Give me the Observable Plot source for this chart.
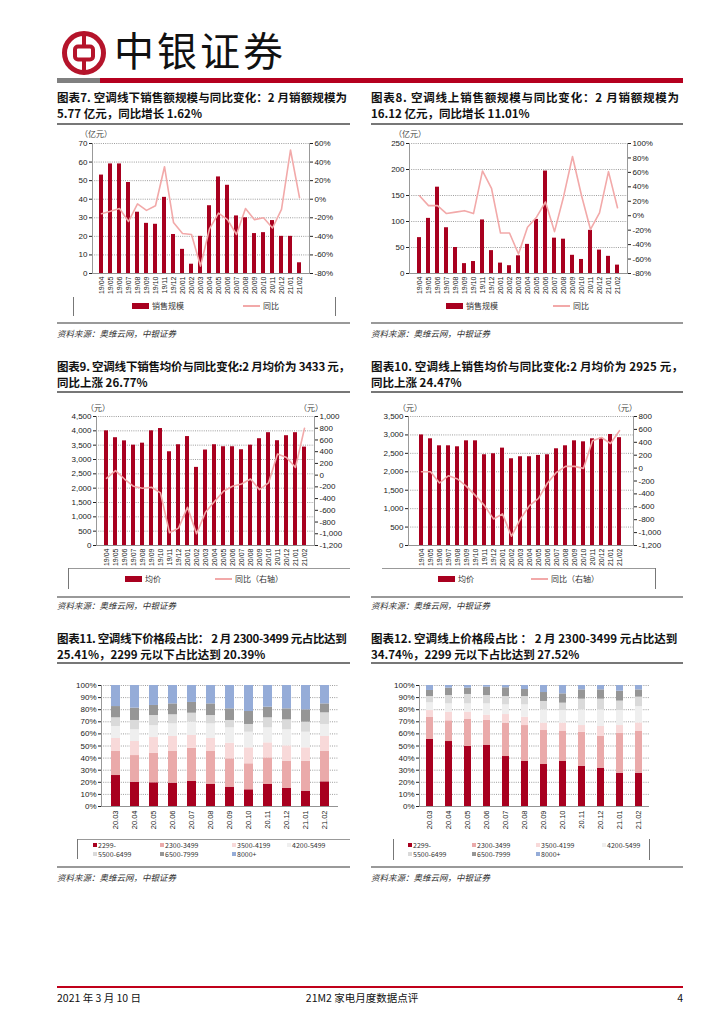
<!DOCTYPE html>
<html><head><meta charset="utf-8">
<script src="https://cdn.jsdelivr.net/npm/d3@7"></script>
<script src="https://cdn.jsdelivr.net/npm/@observablehq/plot@0.6"></script>
<style>
body{margin:0;background:#fff}
#page{position:relative;width:724px;height:1024px;overflow:hidden;background:#fff;font-family:"Noto Sans CJK SC","Liberation Sans",sans-serif;color:#111}
.abs{position:absolute}
.title{font-weight:700;font-size:11.5px;line-height:16px;white-space:nowrap;color:#111}
.src{font-style:italic;font-size:8.5px;color:#333;white-space:nowrap;line-height:10px}
.lg{font-size:8px;color:#333;white-space:nowrap;line-height:10px}
.unit{font-size:8px;color:#444;white-space:nowrap;line-height:10px}
</style></head><body><div id="page"></div>
<script>
// ---------------- data ----------------
const months = ["19/04","19/05","19/06","19/07","19/08","19/09","19/10","19/11","19/12","20/01","20/02","20/03","20/04","20/05","20/06","20/07","20/08","20/09","20/10","20/11","20/12","21/01","21/02"];
// 图表7 线下销售额（亿元）与同比（%）
const offlineSales = [53,59,59,49,33,27,26.5,41,21,13,5,20,36.5,52,47.5,31,30,21.5,22,28.5,20,20,5.77];
const offlineSalesYoY = [-15.6,-13,-10,-24,-5,-12,-7,35,-25,-37,-38,-72,-32,-15,-22,-38,-10,-22,-20,-31,-11,53,1.62];
// 图表8 线上销售额（亿元）与同比（%）
const onlineSales = [69,106,166,88,50,19,23,103,44,20,15,34,56,104,197,68,66,35,27,83,45,33,16.12];
const onlineSalesYoY = [27.6,14,14,3,5,7,3,62,38,-24,-24,-53,-16,-2,19,-22,26,82,28,-19,4,61,11.01];
// 图表9 线下均价（元）与同比（元，右轴）
const offlinePrice = [4000,3760,3650,3500,3570,4000,4080,3270,3515,3800,2725,3330,3515,3445,3445,3340,3500,3725,3935,3655,3830,3935,3433];
const offlinePriceYoY = [-54,76,-66,-190,-224,-207,-303,-983,-904,-547,-1000,-632,-450,-275,-190,-150,-66,-247,-133,360,300,133,800];
// 图表10 线上均价（元）与同比（元，右轴）
const onlinePrice = [3000,2895,2705,2705,2678,2840,2840,2462,2489,2642,2353,2408,2408,2444,2462,2624,2705,2840,2813,2895,2912,3012,2925];
const onlinePriceYoY = [-56,-56,-231,-118,-169,-283,-427,-582,-788,-711,-1056,-788,-582,-469,-231,-66,27,27,-4,424,475,382,580];
// 图表11/12 价格段占比（%）
const shareMonths = ["20.03","20.04","20.05","20.06","20.07","20.08","20.09","20.10","20.11","20.12","21.01","21.02"];
const priceBands = ["2299-","2300-3499","3500-4199","4200-5499","5500-6499","6500-7999","8000+"];
const offlineShare = [
  [25.6,19.9,10.7,9.9,7.2,9.3,17.4],
  [20.1,22.0,11.6,9.7,7.7,10.2,18.7],
  [19.6,24.5,12.9,9.9,8.3,8.3,16.5],
  [19.3,26.2,12.4,10.4,7.5,9.0,15.2],
  [20.7,27.5,10.5,11.0,7.4,8.9,14.0],
  [18.2,27.3,10.7,12.1,6.9,9.6,15.2],
  [16.0,23.4,12.9,12.7,6.1,9.6,19.3],
  [13.8,21.5,13.2,12.9,6.4,10.7,21.5],
  [18.2,22.0,12.4,12.4,8.3,8.8,17.9],
  [14.9,22.6,12.6,13.3,8.2,9.1,19.3],
  [12.7,24.8,11.0,12.9,8.3,10.2,20.1],
  [20.39,25.41,12.1,9.9,9.6,7.4,15.2]
];
const onlineShare = [
  [55.4,18.2,5.7,6.4,5.2,5.0,4.1],
  [53.7,17.1,7.2,6.8,6.9,6.1,2.2],
  [49.6,22.3,6.1,6.8,7.8,5.2,2.2],
  [50.7,20.4,4.4,9.3,6.9,6.9,1.4],
  [41.3,27.6,7.1,8.0,6.9,7.2,1.9],
  [37.2,29.7,6.9,10.2,6.9,5.8,3.3],
  [34.7,28.1,6.1,11.0,6.9,7.4,5.8],
  [37.2,24.8,6.9,10.4,6.1,7.7,6.9],
  [33.3,28.1,5.5,13.0,8.8,7.7,3.6],
  [31.7,26.2,8.2,13.8,8.8,7.7,3.6],
  [27.5,33.1,6.3,12.4,7.8,8.2,4.7],
  [27.52,34.74,6.8,13.5,7.8,6.0,3.64]
];
// tick values
const salesTicks7 = [0,10,20,30,40,50,60,70];
const yoyTicks7 = [-80,-60,-40,-20,0,20,40,60];
const salesTicks8 = [0,50,100,150,200,250];
const yoyTicks8 = [-80,-60,-40,-20,0,20,40,60,80,100];
const priceTicks9 = [0,500,1000,1500,2000,2500,3000,3500,4000,4500];
const diffTicks9 = [-1200,-1000,-800,-600,-400,-200,0,200,400,600,800,1000];
const priceTicks10 = [0,500,1000,1500,2000,2500,3000,3500];
const diffTicks10 = [-1200,-1000,-800,-600,-400,-200,0,200,400,600,800];
const shareTicks = [0,10,20,30,40,50,60,70,80,90,100];

// ---------------- styles ----------------
const RED = "#a8001f";
const PINK = "#f2a9a9";
const bandColors = ["#a8001f","#eaaaaa","#f8d9d9","#efefef","#dadada","#969696","#95acd8"];
const FONT = "'Liberation Sans', Arial, sans-serif";
const page = document.getElementById("page");

function el(cls, css, html){
  const d = document.createElement("div");
  d.className = "abs " + (cls||"");
  Object.assign(d.style, css);
  if (html != null) d.innerHTML = html;
  page.appendChild(d);
  return d;
}
function hline(x1,x2,y,h,color){ el("", {left:x1+"px", top:y+"px", width:(x2-x1)+"px", height:h+"px", background:color}); }
function vline(x,y1,y2,color){ el("", {left:x+"px", top:y1+"px", width:"1px", height:(y2-y1)+"px", background:color}); }

const fmtComma = n => (n < 0 ? "-" : "") + d3.format(",")(Math.abs(n));
const fmtPct = n => n + "%";

function dual(cfg){
  const rows = months.map((m,i)=>({m, v: cfg.bars[i], r: cfg.line[i]}));
  const [y0,y1] = cfg.yDomain, [r0,r1] = cfg.rDomain;
  const f = r => y0 + (r - r0)/(r1 - r0)*(y1 - y0);
  const finv = y => r0 + (y - y0)/(y1 - y0)*(r1 - r0);
  return Plot.plot({
    width: cfg.width, height: cfg.height,
    marginTop: cfg.mt, marginBottom: cfg.mb, marginLeft: cfg.ml, marginRight: cfg.mr,
    style: {fontFamily: FONT, fontSize: "8px", color: "#222", background: "transparent", overflow: "visible"},
    x: {type: "band", domain: months, paddingInner: cfg.pi, paddingOuter: cfg.po, label: null},
    y: {domain: cfg.yDomain, label: null},
    marks: [
      Plot.gridY(cfg.yTicks.slice(1), {stroke: "#333", strokeOpacity: 0.8, strokeWidth: 0.6, strokeDasharray: "1,1.2"}),
      Plot.barY(rows, {x: "m", y: "v", fill: RED}),
      Plot.line(rows, {x: "m", y: d => f(d.r), stroke: PINK, strokeWidth: 1.6}),
      Plot.ruleY([y0], {stroke: "#777", strokeWidth: 0.8}),
      Plot.frame({anchor: "left", stroke: "#999"}),
      Plot.frame({anchor: "right", stroke: "#999"}),
      Plot.axisY(cfg.yTicks, {anchor: "left", tickSize: 3, tickPadding: 2, tickFormat: cfg.yFmt, label: null}),
      Plot.axisY(cfg.rTicks.map(f), {anchor: "right", tickSize: 3, tickPadding: 2, tickFormat: y => cfg.rFmt(Math.round(finv(y))), label: null}),
      Plot.axisX({tickRotate: -90, tickSize: 0, tickPadding: 3, fontSize: 7, label: null})
    ]
  });
}

function stacked(cfg){
  const rows = shareMonths.flatMap((m,i) => priceBands.map((b,j) => ({m, b, v: cfg.share[i][j]})));
  return Plot.plot({
    width: cfg.width, height: cfg.height,
    marginTop: cfg.mt, marginBottom: cfg.mb, marginLeft: cfg.ml, marginRight: cfg.mr,
    style: {fontFamily: FONT, fontSize: "8px", color: "#222", background: "transparent", overflow: "visible"},
    x: {type: "band", domain: shareMonths, paddingInner: cfg.pi, paddingOuter: cfg.po, label: null},
    y: {domain: [0,100], label: null},
    color: {domain: priceBands, range: bandColors},
    marks: [
      Plot.gridY(shareTicks.slice(1), {stroke: "#333", strokeOpacity: 0.8, strokeWidth: 0.6, strokeDasharray: "1,1.2"}),
      Plot.barY(rows, {x: "m", y: "v", fill: "b", order: priceBands}),
      Plot.ruleY([0], {stroke: "#777", strokeWidth: 0.8}),
      Plot.frame({anchor: "left", stroke: "#999"}),
      Plot.axisY(shareTicks, {anchor: "left", tickSize: 3, tickPadding: 2, tickFormat: fmtPct, label: null}),
      Plot.axisX({tickRotate: -90, tickSize: 0, tickPadding: 4, fontSize: 7.5, label: null})
    ]
  });
}

function place(node, left, top){
  const d = el("", {left: left+"px", top: top+"px"});
  d.appendChild(node);
}

function title(left, top, width, l1, l2){
  const a = el("title", {left: left+"px", top: top+"px"}, l1);
  const w = a.scrollWidth;
  const n = [...l1].length;
  a.style.letterSpacing = ((width - w)/(n-1)) + "px";
  el("title", {left: left+"px", top: (top+16)+"px"}, l2);
}

// ---------------- header ----------------
el("", {left:"61px", top:"30px"}, `<svg width="46" height="46" viewBox="0 0 46 46">
 <circle cx="23" cy="23" r="19.5" fill="none" stroke="#b5142b" stroke-width="5"/>
 <rect x="14" y="16.5" width="18" height="13" rx="3" fill="none" stroke="#b5142b" stroke-width="4"/>
 <line x1="23" y1="4" x2="23" y2="16.5" stroke="#b5142b" stroke-width="4"/>
 <line x1="23" y1="29.5" x2="23" y2="42" stroke="#b5142b" stroke-width="4"/></svg>`);
el("", {left:"114px", top:"24px", fontSize:"40px", lineHeight:"50px", letterSpacing:"3px", color:"#111", whiteSpace:"nowrap"}, "中银证券");
hline(57, 100, 78, 5, "#808080");
hline(100, 683, 78, 5, "#b5001f");

// ---------------- titles & rules ----------------
title(57, 89, 290, "图表7. 空调线下销售额规模与同比变化：2 月销额规模为", "5.77 亿元，同比增长 1.62%");
title(371, 89, 308, "图表8. 空调线上销售额规模与同比变化：2 月销额规模为", "16.12 亿元，同比增长 11.01%");
title(57, 358, 293, "图表9. 空调线下销售均价与同比变化:2 月均价为 3433 元，", "同比上涨 26.77%");
title(371, 358, 312, "图表10. 空调线上销售均价与同比变化:2 月均价为 2925 元，", "同比上涨 24.47%");
title(57, 630, 290, "图表11. 空调线下价格段占比： 2 月 2300-3499 元占比达到", "25.41%，2299 元以下占比达到 20.39%");
title(371, 630, 306, "图表12. 空调线上价格段占比 ： 2 月 2300-3499 元占比达到", "34.74%，2299 元以下占比达到 27.52%");
for (const y of [123, 391, 662]) { hline(57, 350, y, 2, "#777"); hline(371, 683, y, 2, "#777"); }
for (const y of [322, 596, 866]) { hline(57, 350, y, 2, "#999"); hline(371, 683, y, 2, "#999"); }
for (const y of [328, 600, 872]) {
  el("src", {left:"57px", top:y+"px"}, "资料来源：奥维云网，中银证券");
  el("src", {left:"371px", top:y+"px"}, "资料来源：奥维云网，中银证券");
}

// ---------------- charts ----------------
place(dual({bars: offlineSales, line: offlineSalesYoY, yDomain:[0,70], rDomain:[-80,60], yTicks: salesTicks7, rTicks: yoyTicks7,
  yFmt: d => d, rFmt: fmtPct, width: 293, height: 168, mt: 13, mb: 25, ml: 35, mr: 41, pi: 0.55, po: 0.35}), 57, 130);
place(dual({bars: onlineSales, line: onlineSalesYoY, yDomain:[0,250], rDomain:[-80,100], yTicks: salesTicks8, rTicks: yoyTicks8,
  yFmt: d => d, rFmt: fmtPct, width: 312, height: 168, mt: 13, mb: 25, ml: 38, mr: 56, pi: 0.6, po: 0.3}), 371, 130);
place(dual({bars: offlinePrice, line: offlinePriceYoY, yDomain:[0,4500], rDomain:[-1200,1000], yTicks: priceTicks9, rTicks: diffTicks9,
  yFmt: fmtComma, rFmt: fmtComma, width: 293, height: 170, mt: 19, mb: 22, ml: 39, mr: 36, pi: 0.6, po: 0.15}), 57, 397);
place(dual({bars: onlinePrice, line: onlinePriceYoY, yDomain:[0,3500], rDomain:[-1200,800], yTicks: priceTicks10, rTicks: diffTicks10,
  yFmt: fmtComma, rFmt: fmtComma, width: 312, height: 170, mt: 19, mb: 22, ml: 37, mr: 50, pi: 0.52, po: 0.24}), 371, 397);
place(stacked({share: offlineShare, width: 293, height: 168, mt: 17, mb: 30, ml: 44, mr: 12, pi: 0.54, po: 0.34}), 57, 668);
place(stacked({share: onlineShare, width: 312, height: 168, mt: 17, mb: 30, ml: 48, mr: 34, pi: 0.61, po: 0.17}), 371, 668);

// unit labels
el("unit", {left:"80px", top:"129px"}, "（亿元）");
el("unit", {left:"394px", top:"129px"}, "（亿元）");
el("unit", {left:"86px", top:"403px"}, "（元）");
el("unit", {left:"299px", top:"403px"}, "（元）");
el("unit", {left:"398px", top:"403px"}, "（元）");
el("unit", {left:"613px", top:"403px"}, "（元）");

// ---------------- legends ----------------
function barItem(x, y, text){ el("", {left:x+"px", top:(y-3)+"px", width:"17px", height:"6px", background:RED}); el("lg", {left:(x+20)+"px", top:(y-5)+"px"}, text); }
function lineItem(x, y, text){ el("", {left:x+"px", top:(y-0.75)+"px", width:"17px", height:"1.5px", background:PINK}); el("lg", {left:(x+20)+"px", top:(y-5)+"px"}, text); }
// 7
vline(73, 297, 316, "#777"); vline(335, 297, 316, "#777");
barItem(132, 306, "销售规模"); lineItem(243, 306, "同比");
// 8
barItem(446, 306, "销售规模"); lineItem(553, 306, "同比");
// 9
hline(68, 350, 568, 1, "#999"); vline(68, 568, 589, "#777");
barItem(125, 579, "均价"); lineItem(215, 579, "同比（右轴）");
// 10
hline(382, 655, 568, 1, "#999"); vline(655, 568, 589, "#777");
barItem(438, 579, "均价"); lineItem(531, 579, "同比（右轴）");
// 11 / 12
function shareLegend(xs, y1, y2){
  priceBands.forEach((b, j) => {
    const x = xs[j % 4], y = j < 4 ? y1 : y2;
    el("", {left:x+"px", top:(y-2)+"px", width:"4px", height:"4px", background:bandColors[j]});
    el("lg", {left:(x+5)+"px", top:(y-5)+"px", fontSize:"7px"}, b);
  });
}
hline(77, 350, 839, 1, "#999"); vline(77, 839, 859, "#777");
shareLegend([93, 160, 232, 287], 845, 854);
vline(393, 839, 860, "#777"); vline(649, 839, 860, "#777");
shareLegend([408, 472, 536, 602], 845, 854);

// ---------------- footer ----------------
hline(57, 683, 986, 1.5, "#c0001a");
el("", {left:"57px", top:"991px", fontSize:"10.5px", lineHeight:"14px", whiteSpace:"nowrap"}, "2021 年 3 月 10 日");
el("", {left:"262px", top:"991px", width:"200px", textAlign:"center", fontSize:"10.5px", lineHeight:"14px", whiteSpace:"nowrap"}, "21M2 家电月度数据点评");
el("", {left:"583px", top:"991px", width:"100px", textAlign:"right", fontSize:"10.5px", lineHeight:"14px"}, "4");
</script></body></html>
